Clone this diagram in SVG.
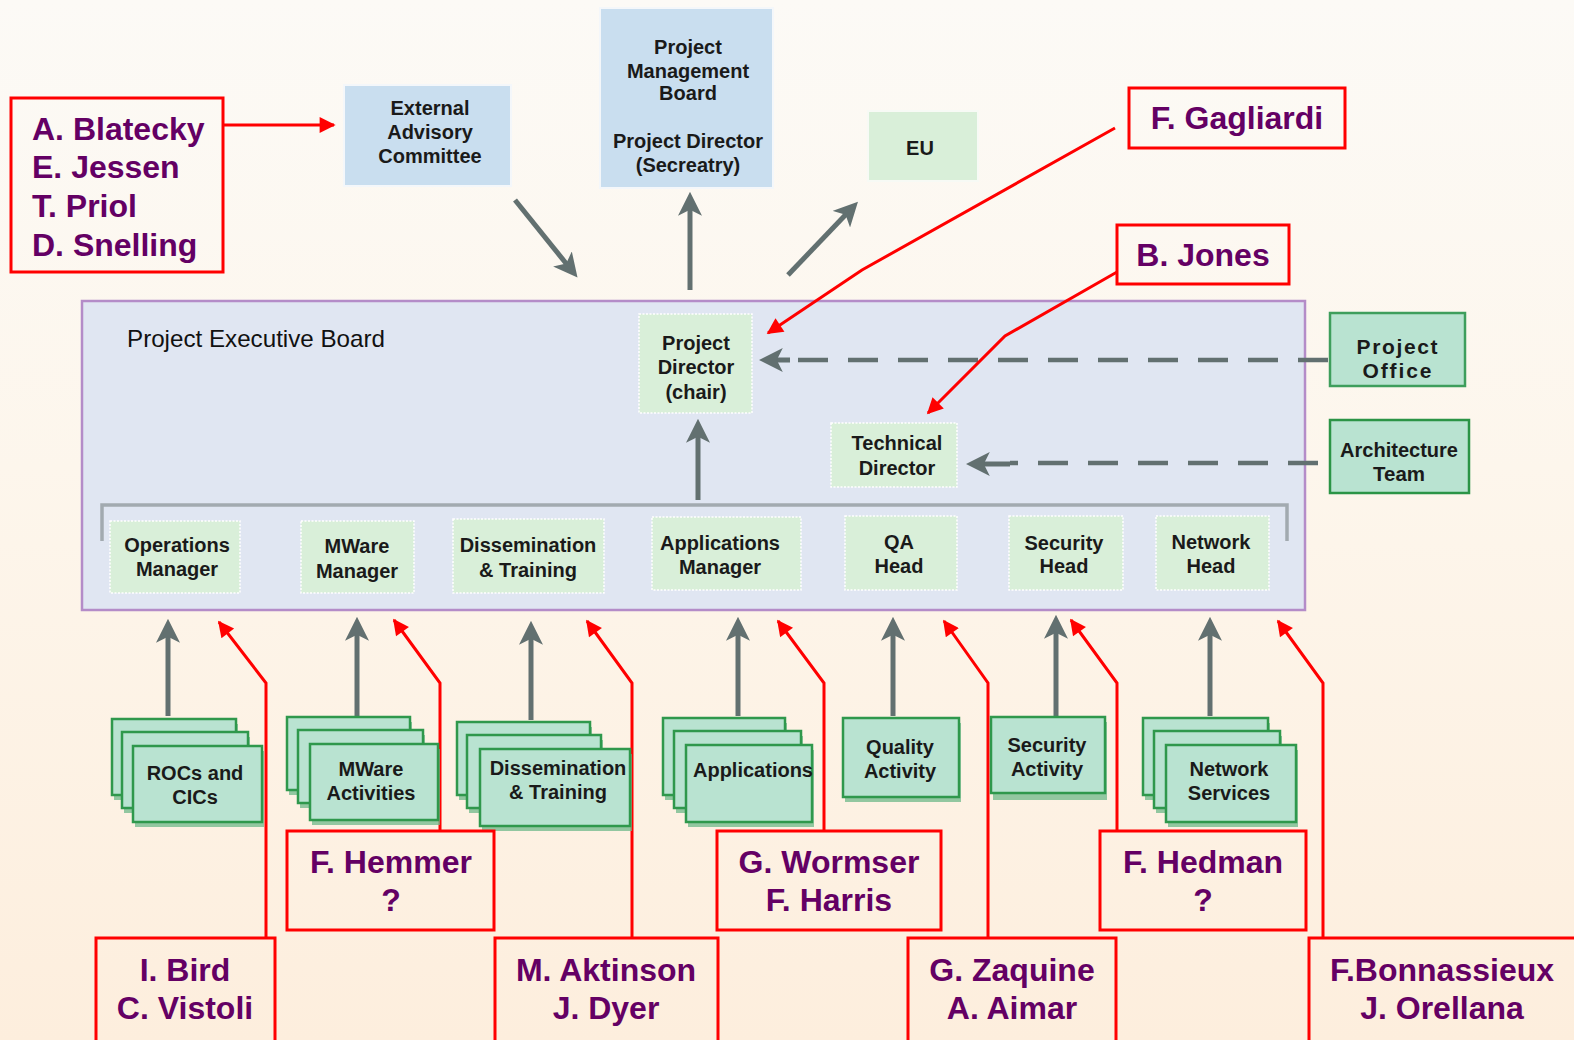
<svg xmlns="http://www.w3.org/2000/svg" width="1574" height="1040" viewBox="0 0 1574 1040">
<defs>
<linearGradient id="bg" x1="0" y1="0" x2="0" y2="1">
<stop offset="0" stop-color="#fcfaf6"/>
<stop offset="0.45" stop-color="#fdf6ec"/>
<stop offset="1" stop-color="#fdeedd"/>
</linearGradient>
<marker id="gh" viewBox="0 0 10 10" refX="7" refY="5" markerWidth="24" markerHeight="24" markerUnits="userSpaceOnUse" orient="auto">
<path d="M0,0 L10,5 L0,10 L2.5,5 z" fill="#627070"/>
</marker>
<marker id="rh" viewBox="0 0 10 10" refX="9" refY="5" markerWidth="20" markerHeight="16" markerUnits="userSpaceOnUse" orient="auto">
<path d="M0,0 L10,5 L0,10 z" fill="#ff0000"/>
</marker>
<style>
.name{font-family:"Liberation Sans",Arial,sans-serif;font-weight:bold;font-size:32px;fill:#640064;text-anchor:middle}
.namel{font-family:"Liberation Sans",Arial,sans-serif;font-weight:bold;font-size:32px;fill:#640064}
.rbox{fill:none;stroke:#ff0000;stroke-width:3}
.lbl{font-family:"Liberation Sans",Arial,sans-serif;font-weight:bold;font-size:20px;fill:#1a1a1a;text-anchor:middle}
.lbl2{font-family:"Liberation Sans",Arial,sans-serif;font-weight:bold;font-size:21px;fill:#1a1a1a;text-anchor:middle}
.blue{fill:#c9deef;stroke:#f4f7fa;stroke-width:2}
.lg{fill:#d9efd9;stroke:#ffffff;stroke-width:1.5;stroke-dasharray:2 1.5}
.card{fill:#b9e3d1;stroke:#2f984c;stroke-width:2.5}
.shadow{fill:#6db88a;opacity:0.75}
.garrow{fill:none;stroke:#627070;stroke-width:5;marker-end:url(#gh)}
.dash{fill:none;stroke:#627070;stroke-width:4.5;stroke-dasharray:30 20;}
.red{fill:none;stroke:#ff0000;stroke-width:3;marker-end:url(#rh)}
</style>
</defs>
<rect x="0" y="0" width="1574" height="1040" fill="url(#bg)"/>

<g id="peb">
<rect x="82" y="301" width="1223" height="309" fill="#e0e6f2" stroke="#b48cc8" stroke-width="2.5"/>
<text x="127" y="347" font-family="Liberation Sans, Arial, sans-serif" font-size="24" fill="#111" textLength="258" lengthAdjust="spacingAndGlyphs">Project Executive Board</text>
</g>

<g id="connectors">
<path d="M102,541 L102,505 L1287,505 L1287,541" fill="none" stroke="#a2aab0" stroke-width="3.5"/>
<line class="garrow" x1="515" y1="200" x2="573" y2="272"/>
<line class="garrow" x1="690" y1="290" x2="690" y2="199"/>
<line class="garrow" x1="788" y1="275" x2="853" y2="207"/>
<line class="garrow" x1="698" y1="500" x2="698" y2="426"/>
<line class="garrow" x1="168" y1="716" x2="168" y2="626"/>
<line class="garrow" x1="357" y1="716" x2="357" y2="624"/>
<line class="garrow" x1="531" y1="720" x2="531" y2="628"/>
<line class="garrow" x1="738" y1="716" x2="738" y2="624"/>
<line class="garrow" x1="893" y1="716" x2="893" y2="624"/>
<line class="garrow" x1="1056" y1="716" x2="1056" y2="622"/>
<line class="garrow" x1="1210" y1="716" x2="1210" y2="624"/>
<line class="dash" x1="1328" y1="360" x2="780" y2="360"/>
<line fill="none" stroke="#627070" stroke-width="5" x1="790" y1="360" x2="766" y2="360" marker-end="url(#gh)"/>
<line class="dash" x1="1318" y1="463" x2="1010" y2="463"/>
<line fill="none" stroke="#627070" stroke-width="5" x1="1010" y1="464" x2="973" y2="464" marker-end="url(#gh)"/>
<line class="red" x1="224" y1="125" x2="334" y2="125"/>
<polyline class="red" points="1115,128 862,270 768,333"/>
<polyline class="red" points="1117,272 1005,336 928,413"/>
<polyline class="red" points="266,938 266,683 219,622"/>
<polyline class="red" points="440,831 440,683 394,620"/>
<polyline class="red" points="632,938 632,683 587,621"/>
<polyline class="red" points="824,831 824,683 778,621"/>
<polyline class="red" points="988,938 988,683 944,621"/>
<polyline class="red" points="1117,831 1117,683 1071,620"/>
<polyline class="red" points="1323,938 1323,683 1278,621"/>
</g>

<g id="n-blatecky">
<rect class="rbox" x="11" y="98" width="212" height="174"/>
<text class="namel" x="32" y="140">A. Blatecky</text>
<text class="namel" x="32" y="178">E. Jessen</text>
<text class="namel" x="32" y="217">T. Priol</text>
<text class="namel" x="32" y="256">D. Snelling</text>
</g>

<g id="n-eac">
<rect class="blue" x="344" y="85" width="167" height="101"/>
<text class="lbl" x="430" y="115">External</text>
<text class="lbl" x="430" y="139">Advisory</text>
<text class="lbl" x="430" y="163">Committee</text>
</g>

<g id="n-pmb">
<rect class="blue" x="600" y="8" width="173" height="180"/>
<text class="lbl" x="688" y="54">Project</text>
<text class="lbl" x="688" y="78">Management</text>
<text class="lbl" x="688" y="100">Board</text>
<text class="lbl" x="688" y="148">Project Director</text>
<text class="lbl" x="688" y="172">(Secreatry)</text>
</g>

<g id="n-eu">
<rect x="868" y="111" width="110" height="70" fill="#d9efd9" stroke="#f7faf5" stroke-width="2"/>
<text class="lbl" x="920" y="155" font-size="22">EU</text>
</g>

<g id="n-gagliardi">
<rect class="rbox" x="1129" y="88" width="216" height="60"/>
<text class="name" x="1237" y="129">F. Gagliardi</text>
</g>

<g id="n-jones">
<rect class="rbox" x="1117" y="225" width="172" height="59"/>
<text class="name" x="1203" y="266">B. Jones</text>
</g>

<g id="n-pd">
<rect class="lg" x="639" y="314" width="113" height="99"/>
<text class="lbl" x="696" y="350">Project</text>
<text class="lbl" x="696" y="374">Director</text>
<text class="lbl" x="696" y="399">(chair)</text>
</g>

<g id="n-td">
<rect class="lg" x="831" y="423" width="126" height="64"/>
<text class="lbl" x="897" y="450">Technical</text>
<text class="lbl" x="897" y="475">Director</text>
</g>

<g id="n-po">
<rect x="1330" y="313" width="135" height="73" fill="#b9e3d1" stroke="#3e9e5c" stroke-width="2.5"/>
<text class="lbl2" x="1397" y="354" textLength="81" lengthAdjust="spacing">Project</text>
<text class="lbl2" x="1397" y="378" textLength="69" lengthAdjust="spacing">Office</text>
</g>

<g id="n-at">
<rect x="1330" y="420" width="139" height="73" fill="#b9e3d1" stroke="#2b9446" stroke-width="2.5"/>
<text class="lbl2" x="1399" y="457" textLength="118" lengthAdjust="spacingAndGlyphs">Architecture</text>
<text class="lbl2" x="1399" y="481" textLength="52" lengthAdjust="spacingAndGlyphs">Team</text>
</g>

<g id="n-ops">
<rect class="lg" x="110" y="521" width="130" height="72"/>
<text class="lbl" x="177" y="552">Operations</text>
<text class="lbl" x="177" y="576">Manager</text>
</g>
<g id="n-mwm">
<rect class="lg" x="301" y="521" width="113" height="72"/>
<text class="lbl" x="357" y="553">MWare</text>
<text class="lbl" x="357" y="578">Manager</text>
</g>
<g id="n-dtm">
<rect class="lg" x="453" y="519" width="151" height="74"/>
<text class="lbl" x="528" y="552">Dissemination</text>
<text class="lbl" x="528" y="577">&amp; Training</text>
</g>
<g id="n-apm">
<rect class="lg" x="652" y="517" width="149" height="73"/>
<text class="lbl" x="720" y="550">Applications</text>
<text class="lbl" x="720" y="574">Manager</text>
</g>
<g id="n-qa">
<rect class="lg" x="845" y="516" width="112" height="74"/>
<text class="lbl" x="899" y="549">QA</text>
<text class="lbl" x="899" y="573">Head</text>
</g>
<g id="n-sec">
<rect class="lg" x="1009" y="516" width="114" height="74"/>
<text class="lbl" x="1064" y="550">Security</text>
<text class="lbl" x="1064" y="573">Head</text>
</g>
<g id="n-net">
<rect class="lg" x="1156" y="516" width="113" height="74"/>
<text class="lbl" x="1211" y="549">Network</text>
<text class="lbl" x="1211" y="573">Head</text>
</g>

<g id="n-rocs">
<rect class="shadow" x="114" y="724" width="124" height="76"/>
<rect class="card" x="112" y="719" width="124" height="76"/>
<rect class="shadow" x="124" y="737" width="126" height="76"/>
<rect class="card" x="122" y="732" width="126" height="76"/>
<rect class="shadow" x="135" y="751" width="129" height="76"/>
<rect class="card" x="133" y="746" width="129" height="76"/>
<text class="lbl" x="195" y="780">ROCs and</text>
<text class="lbl" x="195" y="804">CICs</text>
</g>
<g id="n-mwa">
<rect class="shadow" x="289" y="722" width="123" height="73"/>
<rect class="card" x="287" y="717" width="123" height="73"/>
<rect class="shadow" x="300" y="735" width="125" height="73"/>
<rect class="card" x="298" y="730" width="125" height="73"/>
<rect class="shadow" x="312" y="749" width="128" height="76"/>
<rect class="card" x="310" y="744" width="128" height="76"/>
<text class="lbl" x="371" y="776">MWare</text>
<text class="lbl" x="371" y="800">Activities</text>
</g>
<g id="n-dta">
<rect class="shadow" x="459" y="727" width="133" height="73"/>
<rect class="card" x="457" y="722" width="133" height="73"/>
<rect class="shadow" x="469" y="740" width="134" height="73"/>
<rect class="card" x="467" y="735" width="134" height="73"/>
<rect class="shadow" x="482" y="754" width="150" height="77"/>
<rect class="card" x="480" y="749" width="150" height="77"/>
<text class="lbl" x="558" y="775">Dissemination</text>
<text class="lbl" x="558" y="799">&amp; Training</text>
</g>
<g id="n-apps">
<rect class="shadow" x="665" y="723" width="122" height="77"/>
<rect class="card" x="663" y="718" width="122" height="77"/>
<rect class="shadow" x="676" y="736" width="127" height="77"/>
<rect class="card" x="674" y="731" width="127" height="77"/>
<rect class="shadow" x="688" y="750" width="126" height="77"/>
<rect class="card" x="686" y="745" width="126" height="77"/>
<text class="lbl" x="753" y="777">Applications</text>
</g>
<g id="n-qual">
<rect class="shadow" x="845" y="723" width="116" height="79"/>
<rect class="card" x="843" y="718" width="116" height="79"/>
<text class="lbl" x="900" y="754">Quality</text>
<text class="lbl" x="900" y="778">Activity</text>
</g>
<g id="n-seca">
<rect class="shadow" x="993" y="722" width="114" height="78"/>
<rect class="card" x="991" y="717" width="114" height="76"/>
<text class="lbl" x="1047" y="752">Security</text>
<text class="lbl" x="1047" y="776">Activity</text>
</g>
<g id="n-netsvc">
<rect class="shadow" x="1145" y="723" width="125" height="77"/>
<rect class="card" x="1143" y="718" width="125" height="77"/>
<rect class="shadow" x="1156" y="736" width="126" height="77"/>
<rect class="card" x="1154" y="731" width="126" height="77"/>
<rect class="shadow" x="1168" y="750" width="130" height="77"/>
<rect class="card" x="1166" y="745" width="130" height="77"/>
<text class="lbl" x="1229" y="776">Network</text>
<text class="lbl" x="1229" y="800">Services</text>
</g>

<g id="n-bird">
<rect class="rbox" x="96" y="938" width="179" height="110"/>
<text class="name" x="185" y="981">I. Bird</text>
<text class="name" x="185" y="1019">C. Vistoli</text>
</g>
<g id="n-hemmer">
<rect class="rbox" x="287" y="831" width="207" height="99"/>
<text class="name" x="391" y="873">F. Hemmer</text>
<text class="name" x="391" y="911">?</text>
</g>
<g id="n-aktinson">
<rect class="rbox" x="495" y="938" width="223" height="110"/>
<text class="name" x="606" y="981">M. Aktinson</text>
<text class="name" x="606" y="1019">J. Dyer</text>
</g>
<g id="n-wormser">
<rect class="rbox" x="717" y="831" width="224" height="99"/>
<text class="name" x="829" y="873">G. Wormser</text>
<text class="name" x="829" y="911">F. Harris</text>
</g>
<g id="n-zaquine">
<rect class="rbox" x="908" y="938" width="208" height="110"/>
<text class="name" x="1012" y="981">G. Zaquine</text>
<text class="name" x="1012" y="1019">A. Aimar</text>
</g>
<g id="n-hedman">
<rect class="rbox" x="1100" y="831" width="206" height="99"/>
<text class="name" x="1203" y="873">F. Hedman</text>
<text class="name" x="1203" y="911">?</text>
</g>
<g id="n-bonnassieux">
<rect class="rbox" x="1309" y="938" width="280" height="110"/>
<text class="name" x="1442" y="981">F.Bonnassieux</text>
<text class="name" x="1442" y="1019">J. Orellana</text>
</g>
</svg>
